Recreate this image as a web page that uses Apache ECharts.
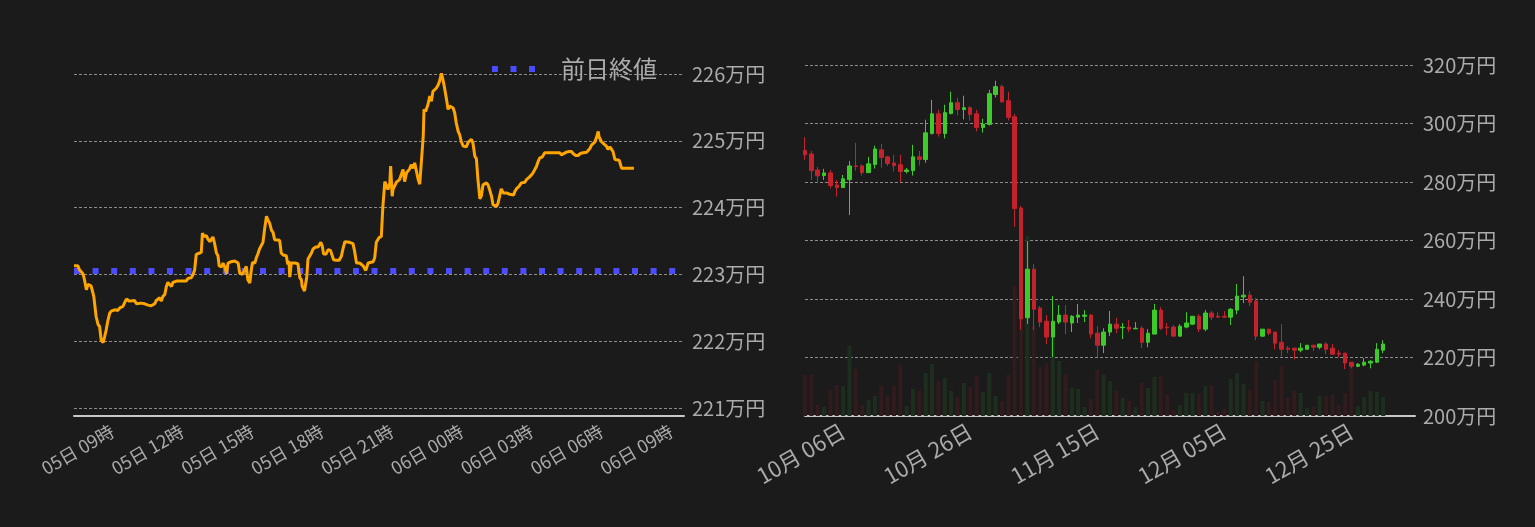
<!DOCTYPE html>
<html><head><meta charset="utf-8">
<script src="https://cdn.jsdelivr.net/npm/echarts@6/dist/echarts.min.js"></script>
<style>html,body{margin:0;padding:0;background:#1b1b1b;}#c{width:1535px;height:527px;}</style>
</head><body><div id="c"></div>
<script>
// ---- Intraday (left) ----
// time of first sample, minutes since 05日 00:00; samples given as minutes after it
const sessionStartMinute = 441;
const sessionAxisLength = 1572;
const intradayOffsets = [0,10,14,23,27,32,36,44,49,51,56,57,62,66,70,75,79,83,87,92,96,105,109,113,118,122,126,130,135,139,143,148,156,161,165,173,182,191,199,203,208,212,216,221,225,229,234,238,242,246,251,255,264,277,289,294,302,307,311,315,319,328,331,334,341,345,350,354,358,362,367,371,374,380,384,388,393,397,405,414,423,427,434,440,444,448,453,457,460,466,470,474,478,483,487,491,496,500,504,509,513,517,521,530,534,539,547,551,554,556,560,569,577,582,586,588,594,597,600,603,612,616,623,629,633,636,640,643,649,655,661,666,669,676,683,689,693,698,702,710,719,723,728,732,
736,745,752,758,771,775,779,786,792,796,801,805,809,814,816,820,822,826,831,839,844,848,852,857,861,865,869,874,878,882,887,891,895,900,902,906,912,917,921,925,930,934,938,942,947,951,955,960,964,968,973,977,981,985,990,994,998,1003,1011,1016,1024,1028,1033,1037,1041,1046,1050,1054,1063,1067,1071,1076,1080,1084,1089,1093,1097,1101,1106,1114,1123,1133,1136,1140,1147,1153,1162,1166,1174,1179,1183,1187,1192,1196,1200,1207,1213,1222,1235,1252,1256,1260,1269,1276,1282,1286,1293,1299,1305,1312,1321,1325,1329,1334,1338,1342,1346,1351,1353,1359,1364,1368,1372,1376,1381,1385,1389,1394,1398,1405,1411,1415,1424,1443];
const intradayPrices = [223.13,223.13,223.07,223.01,222.92,222.77,222.85,222.83,222.81,222.67,222.65,222.37,222.25,222.22,222.02,221.98,222.07,222.17,222.30,222.42,222.45,222.47,222.48,222.46,222.50,222.48,222.52,222.57,222.63,222.61,222.60,222.61,222.61,222.56,222.58,222.57,222.56,222.54,222.53,222.55,222.56,222.61,222.60,222.65,222.60,222.67,222.70,222.82,222.88,222.88,222.82,222.88,222.90,222.90,222.90,222.94,222.95,223.00,223.07,223.30,223.32,223.33,223.62,223.57,223.58,223.53,223.49,223.47,223.56,223.47,223.32,223.28,223.13,223.11,223.17,223.12,223.01,223.17,223.19,223.20,223.17,223.02,223.00,223.07,223.12,222.92,222.87,223.07,223.18,223.17,223.25,223.31,223.38,223.38,223.48,223.67,223.87,223.81,223.77,223.66,223.63,223.52,223.51,223.51,223.32,223.29,223.28,223.15,223.20,222.96,223.17,223.17,223.16,222.95,222.92,222.82,222.75,222.77,222.97,223.23,223.32,223.38,223.41,223.41,223.42,223.48,223.42,223.31,223.30,223.37,223.36,223.27,223.22,223.21,223.21,223.27,223.38,223.49,223.49,223.48,223.46,223.35,223.17,223.15,
223.17,223.13,223.06,223.17,223.19,223.25,223.48,223.55,223.57,224.02,224.39,224.37,224.27,224.37,224.62,224.17,224.27,224.32,224.38,224.42,224.44,224.57,224.39,224.52,224.54,224.58,224.64,224.59,224.67,224.66,224.42,224.35,224.37,225.07,225.47,225.44,225.54,225.67,225.59,225.74,225.72,225.79,225.83,225.89,226.01,225.91,225.79,225.62,225.47,225.52,225.54,225.49,225.42,225.27,225.14,225.09,224.99,224.92,224.91,224.98,225.02,224.97,224.77,224.73,224.42,224.13,224.18,224.34,224.37,224.34,224.27,224.17,224.04,224.06,224.02,224.07,224.08,224.28,224.22,224.22,224.20,224.19,224.24,224.28,224.32,224.37,224.38,224.42,224.46,224.49,224.52,224.54,224.62,224.69,224.74,224.76,224.82,224.82,224.82,224.82,224.79,224.81,224.83,224.84,224.84,224.81,224.78,224.78,224.81,224.82,224.83,224.84,224.88,224.94,224.92,224.98,225.04,225.14,225.06,224.99,224.96,224.98,224.92,224.87,224.91,224.92,224.84,224.72,224.72,224.71,224.59,224.58,224.59,224.59];
const prevClose = 223.05;
const intradayLabelMinutes = [540,720,900,1080,1260,1440,1620,1800,1980];
const intradayTicks = {min:221, max:226, interval:1};

// ---- Daily (right) ----
const dailyFirstDate = [9, 30];   // month, day
const dailyDayCount = 97;
const dailyLabelDays = ['10/06','10/26','11/15','12/05','12/25'];
const dailyOpen  = [290.8,289.6,284.1,282.2,283.1,279.0,278.1,280.8,285.5,285.5,283.2,286.0,291.0,288.6,286.5,285.9,283.6,283.9,288.6,287.7,296.6,303.3,296.6,303.4,307.1,304.8,305.4,303.3,298.6,299.7,309.9,312.6,307.8,302.3,271.1,233.6,250.2,236.9,232.4,227.0,232.1,234.5,231.8,233.8,234.1,234.5,228.3,224.2,228.7,231.4,230.2,230.4,229.8,230.0,225.2,228.0,236.2,230.4,230.4,227.3,230.4,231.4,234.1,229.7,235.2,234.1,234.1,233.8,236.2,240.7,241.3,239.3,227.3,229.7,228.7,225.2,223.2,223.2,222.5,222.8,224.2,223.5,224.6,223.2,221.5,221.5,218.4,217.0,217.4,218.1,218.4,222.5];
const dailyClose = [289.3,283.9,282.1,283.1,278.8,278.1,281.1,285.5,285.3,283.2,286.2,291.3,288.4,286.3,285.6,283.6,284.1,288.6,287.7,296.8,303.3,296.6,303.7,307.1,304.8,305.4,303.1,298.6,299.8,310.2,312.6,307.4,302.1,270.9,233.2,250.2,236.5,232.1,227.0,232.4,234.5,232.1,234.1,234.5,234.5,228.0,224.2,228.7,231.4,230.0,230.4,229.7,230.0,225.2,228.3,236.2,230.0,230.2,227.3,230.7,231.8,234.1,229.7,235.2,233.8,233.8,233.8,236.5,241.0,241.3,238.9,227.3,229.7,228.3,224.9,222.8,222.8,222.5,223.2,224.2,223.5,224.6,222.8,221.1,221.1,218.1,217.0,217.7,218.4,218.7,222.8,224.6];
const dailyLow   = [287.6,280.7,279.8,280.7,277.8,275.0,278.1,268.7,283.9,282.2,283.2,284.6,284.9,285.5,283.6,279.9,282.9,282.2,285.6,286.6,296.2,295.5,294.9,303.1,302.8,301.4,301.0,297.3,296.9,299.3,308.9,307.1,301.0,264.7,229.5,231.5,229.4,230.4,224.6,220.1,231.4,228.0,228.7,231.8,232.1,226.6,220.1,221.5,227.3,228.3,226.3,228.7,229.7,223.2,223.5,228.0,229.4,227.6,227.3,227.3,230.0,231.1,228.7,229.0,232.8,233.8,233.5,231.1,234.8,238.6,237.6,225.9,227.0,227.6,222.8,220.4,221.5,219.4,221.8,222.8,222.2,222.8,221.1,221.1,220.1,216.0,216.3,216.7,217.0,216.3,218.1,221.5];
const dailyHigh  = [295.3,290.6,285.2,284.5,284.1,280.7,282.4,287.2,293.4,286.0,288.6,292.4,293.0,288.9,289.3,289.3,284.8,292.7,290.6,301.3,308.1,304.7,306.4,310.9,308.8,309.5,306.0,304.7,301.6,311.5,314.6,313.3,310.9,303.3,271.8,259.8,251.9,237.6,234.5,241.0,237.9,237.9,234.5,238.3,236.2,234.8,230.7,230.0,235.9,233.5,231.8,232.8,232.1,230.7,229.7,238.3,237.2,231.8,231.1,231.4,235.5,234.1,234.8,236.2,235.9,235.5,235.9,236.9,245.1,247.8,242.7,240.3,229.7,229.7,228.7,231.4,223.9,223.2,224.9,224.2,224.2,224.6,225.2,224.6,222.5,221.5,218.4,218.1,219.8,219.1,224.9,225.9];
const dailyVolume = [410,410,110,90,260,310,300,700,470,110,160,200,300,200,300,520,100,270,260,430,520,350,380,250,190,330,290,400,240,430,200,150,410,1300,1000,1800,900,490,530,800,550,420,280,270,90,170,460,410,350,250,180,150,90,330,280,390,400,210,60,110,230,230,220,300,310,40,70,370,430,320,260,550,150,140,360,500,180,250,230,80,90,200,200,210,110,230,490,100,190,250,240,190];
const dailyTicks = {min:200, max:320, interval:20};
const volumeAxisMax = 3510;

// ---- build ----
const FONT = "'Noto Sans CJK JP','Noto Sans',sans-serif";
const TXT = '#ababab';
const RED = '#c4232d', GREEN = '#3dcb2b';
const VRED = '#311b1c', VGREEN = '#1e2e1e';
const BLUE = '#4b4bff';

const linePts = intradayOffsets.map((o,i)=>[sessionStartMinute + o, intradayPrices[i]]);
const axisMin = sessionStartMinute, axisMax = sessionStartMinute + sessionAxisLength;
const prevPts = [[axisMin, prevClose],[axisMax, prevClose]];

const categories = [];
for (let i=0;i<dailyDayCount;i++){
  const d = new Date(Date.UTC(2020, dailyFirstDate[0]-1, dailyFirstDate[1]+i));
  categories.push(String(d.getUTCMonth()+1).padStart(2,'0')+'/'+String(d.getUTCDate()).padStart(2,'0'));
}
const candles = dailyOpen.map((o,i)=>[o, dailyClose[i], dailyLow[i], dailyHigh[i]]);
const vols = dailyVolume.map((v,i)=>({value:v, itemStyle:{color: dailyClose[i] >= dailyOpen[i] ? VGREEN : VRED}}));

const splitStyle = {show:true, lineStyle:{color:'#8c8c8c', width:1, type:[3,2]}};

const chart = echarts.init(document.getElementById('c'));
chart.setOption({
  backgroundColor:'#1b1b1b',
  animation:false,
  textStyle:{fontFamily:FONT},
  legend:{
    data:[{name:'前日終値', icon:'path://M0 0h6v6h-6zM18.6 0h6v6h-6zM37.2 0h6v6h-6z'}],
    left:487, top:52, itemWidth:43, itemHeight:6,
    textStyle:{color:TXT, fontSize:24, fontFamily:FONT, padding:[0,0,0,21]}
  },
  grid:[
    {left:74, right:851, top:74, bottom:119},
    {left:805, right:120, top:65, bottom:111}
  ],
  xAxis:[
    {type:'value', gridIndex:0, min:axisMin, max:axisMax, offset:7.5,
     axisLine:{show:true, lineStyle:{color:'#c8c8c8', width:2}}, axisTick:{show:false}, splitLine:{show:false},
     axisLabel:{customValues:intradayLabelMinutes, rotate:30, margin:14, color:TXT, fontSize:18, fontFamily:FONT,
       formatter:(m)=>{const d=5+Math.floor(m/1440); const h=Math.round((m%1440)/60); return String(d).padStart(2,'0')+'日 '+String(h).padStart(2,'0')+'時';}}},
    {type:'category', gridIndex:1, data:categories, boundaryGap:false,
     axisLine:{show:true, lineStyle:{color:'#c8c8c8', width:2}}, axisTick:{show:false}, splitLine:{show:false},
     axisLabel:{rotate:30, margin:13, color:TXT, fontSize:22, fontFamily:FONT,
       interval:(idx,val)=>dailyLabelDays.indexOf(val)>=0,
       formatter:(v)=>v.slice(0,2)+'月 '+v.slice(3)+'日'}}
  ],
  yAxis:[
    {type:'value', gridIndex:0, position:'right', min:intradayTicks.min, max:intradayTicks.max, interval:intradayTicks.interval,
     axisLine:{show:false}, axisTick:{show:false}, splitLine:splitStyle,
     axisLabel:{color:TXT, fontSize:20, fontFamily:FONT, margin:8, formatter:(v)=>v+'万円'}},
    {type:'value', gridIndex:1, position:'right', min:dailyTicks.min, max:dailyTicks.max, interval:dailyTicks.interval,
     axisLine:{show:false}, axisTick:{show:false}, splitLine:splitStyle,
     axisLabel:{color:TXT, fontSize:20, fontFamily:FONT, margin:8, formatter:(v)=>v+'万円'}},
    {type:'value', gridIndex:1, min:0, max:volumeAxisMax, show:false, splitLine:{show:false}}
  ],
  series:[
    {name:'前日終値', type:'line', xAxisIndex:0, yAxisIndex:0, data:prevPts, symbol:'none', showSymbol:false,
     lineStyle:{color:BLUE, width:6, type:[6,12.6]}, itemStyle:{color:BLUE}, z:3},
    {name:'価格', type:'line', xAxisIndex:0, yAxisIndex:0, data:linePts, symbol:'none', showSymbol:false, clip:false,
     lineStyle:{color:'#ffa500', width:3}, itemStyle:{color:'#ffa500'}, z:4},
    {name:'出来高', type:'bar', xAxisIndex:1, yAxisIndex:2, data:vols, barWidth:4, z:1},
    {name:'日足', type:'candlestick', xAxisIndex:1, yAxisIndex:1, data:candles, barWidth:4, z:5,
     itemStyle:{color:GREEN, color0:RED, borderColor:GREEN, borderColor0:RED, borderWidth:1}}
  ]
});
</script></body></html>
